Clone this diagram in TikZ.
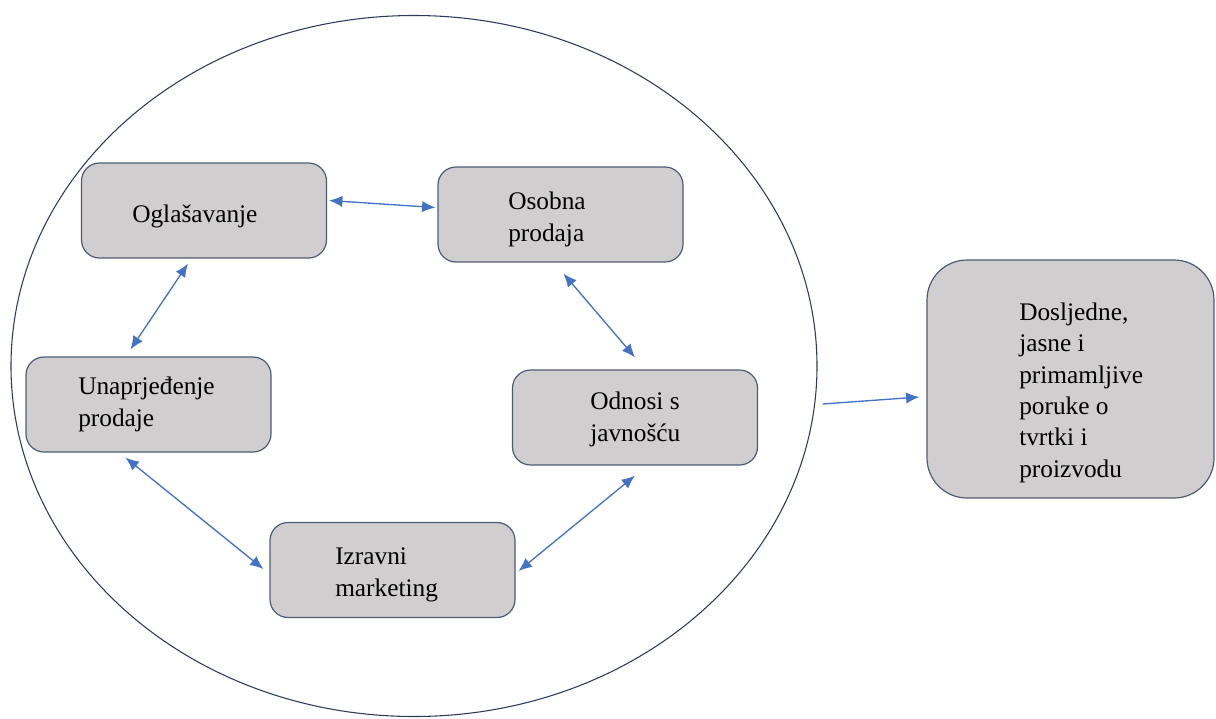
\documentclass[tikz,border=0pt]{standalone}
\usepackage{fontspec}
\setmainfont{Liberation Serif}
\usetikzlibrary{shapes.geometric,arrows.meta,calc}
\definecolor{blokfill}{HTML}{D0CECE}
\definecolor{blokline}{HTML}{4E5B75}
\definecolor{krugline}{HTML}{2E3A59}
\definecolor{vezaboja}{HTML}{4472C4}

\begin{document}
\begin{tikzpicture}[
	x=0.75pt, y=-0.75pt,
	blok/.style={draw=blokline, fill=blokfill, line width=0.9pt, rounded corners=13.5pt,
		minimum width=183.75pt, minimum height=71.25pt, inner sep=0pt},
	ishod/.style={blok, rounded corners=30pt, minimum width=215.25pt, minimum height=178.5pt},
	txt/.style={anchor=base west, inner sep=0pt, align=left,
		font=\fontsize{19}{23.5}\selectfont},
	veza/.style={draw=vezaboja, line width=1pt, {Latex[length=10pt,width=8.5pt]}-{Latex[length=10pt,width=8.5pt]}},
	vezaj/.style={draw=vezaboja, line width=1pt, -{Latex[length=10pt,width=8.5pt]}}]
\useasboundingbox (0,0) rectangle (1216,718);
% big ellipse round the tools
\node[ellipse, draw=krugline, line width=0.8pt, minimum width=604.5pt, minimum height=525.75pt,
	inner sep=0pt] (krug) at (414,366) {};
% boxes
\node[blok] (ogl) at (204,210.5) {};
\node[blok] (oso) at (560.5,214.5) {};
\node[blok] (unap) at (148.5,404.5) {};
\node[blok] (odn) at (635,417.5) {};
\node[blok] (izr) at (392.5,570) {};
\node[ishod] (cilj) at (1070.5,379) {};
% texts (base = last line)
\node[txt] (oglT) at (132,222) {Oglašavanje};
\node[txt] (osoT) at (508,241) {Osobna\\prodaja};
\node[txt] (unapT) at (78,426) {Unaprjeđenje\\prodaje};
\node[txt] (odnT) at (590,441) {Odnosi s\\javnošću};
\node[txt] (izrT) at (335,596) {Izravni\\marketing};
\node[txt] (ciljT) at (1019,477) {Dosljedne,\\jasne i\\primamljive\\poruke o\\tvrtki i\\proizvodu};
% arrows
\draw[veza] ($(ogl.east)+(2,-10)$) -- ($(oso.west)+(-2,-7)$);
\draw[veza] ($(ogl.south)+(-16,5)$) -- ($(unap.north)+(-18,-7)$);
\draw[veza] ($(oso.south)+(3,11)$) -- ($(odn.north)+(0,-12)$);
\draw[veza] ($(odn.south)+(0,10)$) -- ($(izr.east)+(3,1)$);
\draw[veza] ($(unap.south)+(-23,5)$) -- ($(izr.west)+(-6,-1)$);
\draw[vezaj] ($(krug.east)+(5,38)$) -- ($(cilj.west)+(-7,18)$);
\end{tikzpicture}
\end{document}
